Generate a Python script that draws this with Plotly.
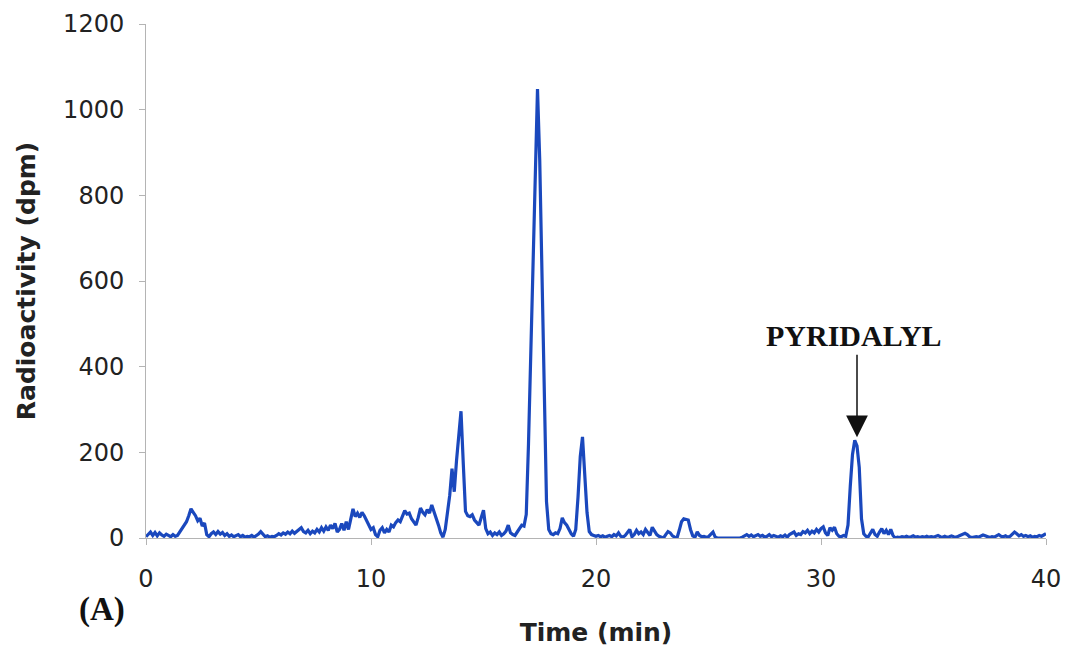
import numpy as np
import plotly.graph_objects as go

# Radio-HPLC chromatogram, sampled every 0.1 min
TIME_STEP = 0.1

# 0.0 - 9.9 min
seg_0_10 = [3, 8, 14, 6, 13, 5, 12, 7, 4, 9,
            5, 3, 8, 4, 6, 14, 20, 28, 38, 52,
            68, 60, 52, 40, 46, 28, 35, 8, 3, 10,
            14, 8, 15, 9, 13, 6, 10, 4, 7, 3,
            5, 8, 3, 6, 2, 4, 3, 6, 2, 5,
            9, 15, 8, 3, 5, 2, 4, 3, 6, 10,
            7, 12, 9, 14, 10, 16, 11, 15, 20, 24,
            15, 12, 18, 10, 16, 12, 20, 14, 24, 16,
            26, 18, 30, 22, 34, 14, 20, 34, 18, 38,
            20, 48, 68, 50, 58, 48, 60, 52, 40, 28]

# 10.0 - 19.9 min
seg_10_20 = [20, 24, 8, 3, 18, 24, 12, 20, 14, 30,
             26, 36, 42, 38, 50, 64, 56, 58, 45, 36,
             30, 48, 70, 60, 54, 66, 58, 77, 62, 50,
             30, 12, 2, 20, 55, 100, 162, 108, 180, 240,
             296, 175, 62, 52, 50, 54, 42, 36, 30, 48,
             65, 22, 10, 14, 6, 12, 8, 14, 6, 10,
             16, 30, 12, 8, 6, 14, 22, 30, 28, 55,
             220, 430, 640, 860, 1048, 880, 590, 300, 85, 20,
             10, 8, 12, 10, 22, 47, 36, 30, 18, 10,
             4, 20, 95, 190, 236, 160, 60, 15, 8, 6]

# 20.0 - 29.9 min
seg_20_30 = [4, 6, 3, 5, 2, 4, 6, 3, 8, 5,
             12, 4, 2, 6, 14, 20, 3, 8, 18, 10,
             14, 8, 20, 12, 6, 25, 16, 8, 4, 2,
             0, 8, 15, 12, 5, 2, 0, 18, 38, 45,
             44, 42, 20, 5, 2, 14, 6, 3, 4, 2,
             3, 8, 14, 2, 0, 0, 0, 0, 0, 0,
             0, 0, 0, 0, 0, 2, 6, 8, 4, 7,
             3, 5, 8, 4, 6, 2, 4, 8, 3, 6,
             4, 2, 5, 3, 7, 2, 8, 12, 14, 6,
             10, 8, 15, 12, 18, 10, 16, 12, 20, 14]

# 30.0 - 40.0 min
seg_30_40 = [22, 26, 12, 6, 24, 18, 25, 10, 4, 3,
             6, 4, 30, 120, 195, 228, 215, 165, 45, 10,
             4, 3, 10, 20, 8, 4, 14, 22, 10, 18,
             8, 20, 6, 0, 2, 1, 3, 2, 4, 2,
             3, 5, 2, 3, 1, 3, 2, 4, 2, 3,
             2, 4, 6, 3, 2, 4, 2, 3, 5, 3,
             2, 4, 6, 8, 11, 8, 3, 1, 2, 3,
             2, 4, 7, 5, 2, 1, 3, 2, 5, 8,
             4, 3, 5, 2, 4, 8, 14, 10, 5, 8,
             4, 6, 3, 5, 2, 4, 3, 6, 4, 7,
             10]

radioactivity = seg_0_10 + seg_10_20 + seg_20_30 + seg_30_40
time_min = np.round(np.arange(len(radioactivity)) * TIME_STEP, 1)

x_ticks = [0, 10, 20, 30, 40]
y_ticks = [0, 200, 400, 600, 800, 1000, 1200]

peak_label = "PYRIDALYL"
peak_time = 31.6
peak_value = 235
label_value = 472

LINE_COLOR = "#1a48bd"
AXIS_COLOR = "#b4b4b4"
TEXT_COLOR = "#222222"

fig = go.Figure()
fig.add_trace(go.Scatter(
    x=time_min, y=radioactivity, mode="lines",
    line=dict(color=LINE_COLOR, width=3.2), showlegend=False,
))

fig.update_layout(
    width=1075, height=653,
    margin=dict(l=138, r=37, t=16, b=123),
    paper_bgcolor="white", plot_bgcolor="white",
    font=dict(family="DejaVu Sans", color=TEXT_COLOR),
)
fig.update_xaxes(
    range=[0, 40], tickvals=x_ticks, showgrid=False, zeroline=False,
    showline=True, linecolor=AXIS_COLOR, linewidth=1, automargin=False,
    ticks="outside", ticklen=6, tickcolor=AXIS_COLOR,
    tickfont=dict(size=24, family="DejaVu Sans", color=TEXT_COLOR),
    ticklabelstandoff=13,
    title=dict(text="<b>Time (min)</b>", standoff=31,
               font=dict(size=25, family="DejaVu Sans", color=TEXT_COLOR)),
)
fig.update_yaxes(
    range=[0, 1200], tickvals=y_ticks, showgrid=False, zeroline=False,
    showline=True, linecolor=AXIS_COLOR, linewidth=1, automargin=False,
    ticks="outside", ticklen=6, tickcolor=AXIS_COLOR,
    tickfont=dict(size=24, family="DejaVu Sans", color=TEXT_COLOR),
    ticklabelstandoff=10,
    title=dict(text="<b>Radioactivity (dpm)</b>", standoff=20,
               font=dict(size=25, family="DejaVu Sans", color=TEXT_COLOR)),
)

# arrow pointing at the pyridalyl peak
fig.add_annotation(
    x=peak_time, y=peak_value, xref="x", yref="y", text="",
    showarrow=True, ax=0, ay=-84, arrowhead=2, arrowsize=2.9,
    arrowwidth=1.5, arrowcolor="#111111",
)
fig.add_annotation(
    x=peak_time - 0.15, y=label_value, xref="x", yref="y",
    text="<b>" + peak_label + "</b>", showarrow=False,
    font=dict(family="Liberation Serif", size=30, color="#111111"),
)
fig.add_annotation(
    x=-0.049, y=-0.14, xref="paper", yref="paper",
    xanchor="center", yanchor="middle",
    text="<b>(A)</b>", showarrow=False,
    font=dict(family="Liberation Serif", size=33, color="#111111"),
)

fig.write_html("out.html")
